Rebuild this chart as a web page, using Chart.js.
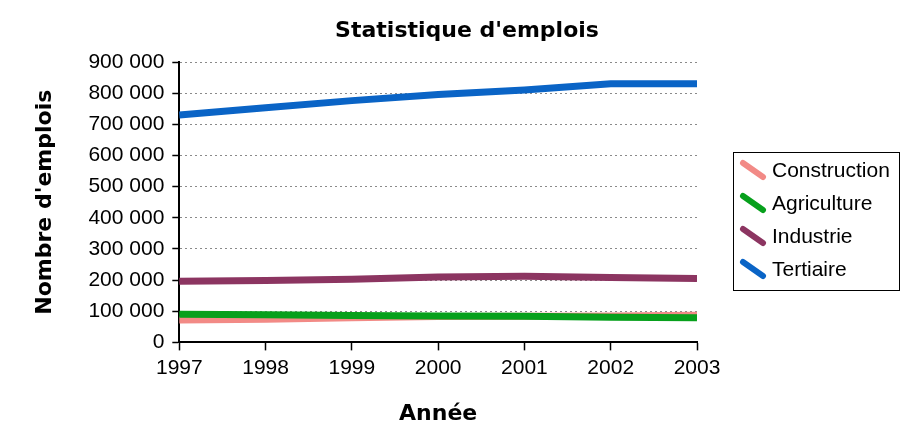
<!DOCTYPE html>
<html>
<head>
<meta charset="utf-8">
<script src="https://cdn.jsdelivr.net/npm/chart.js@4/dist/chart.umd.min.js"></script>
<style>
  html, body { margin: 0; padding: 0; background: #fff; }
  #wrap { width: 904px; height: 431px; }
</style>
</head>
<body>
<div id="wrap"><canvas id="emplois"></canvas></div>
<script>
// values
const annees = ['1997', '1998', '1999', '2000', '2001', '2002', '2003'];
const construction = [72000, 74000, 79000, 83000, 84000, 85000, 87000];
const agriculture = [90000, 89000, 86000, 85000, 84000, 81000, 79000];
const industrie = [196000, 199000, 203000, 210000, 212000, 208000, 205000];
const tertiaire = [730000, 753000, 776000, 796000, 810000, 830000, 830000];

const titre = "Statistique d'emplois";

const couleurs = {
  construction: '#f28a86',
  agriculture: '#07a01c',
  industrie: '#8c3561',
  tertiaire: '#0a64c6'
};

const fmt = (v) => {
  if (v === 0) return '0';
  const s = String(v);
  return s.slice(0, s.length - 3) + ' ' + s.slice(-3);
};

// title and framed legend drawn by hand, the original sits them off-centre
const habillage = {
  id: 'habillage',
  afterDraw(chart) {
    const ctx = chart.ctx;
    ctx.save();
    ctx.fillStyle = '#000';
    ctx.textAlign = 'center';
    ctx.textBaseline = 'middle';
    ctx.font = 'bold 22px "DejaVu Sans"';
    ctx.fillText(titre, 467, 31);

    ctx.strokeStyle = '#000';
    ctx.lineWidth = 1;
    ctx.strokeRect(733.5, 152.5, 166, 138);
    ctx.font = '21px "Liberation Sans"';
    ctx.textAlign = 'left';
    chart.data.datasets.forEach((d, i) => {
      const cy = 170 + i * 33;
      ctx.strokeStyle = d.borderColor;
      ctx.lineWidth = 6;
      ctx.lineCap = 'round';
      ctx.beginPath();
      ctx.moveTo(743, cy - 7);
      ctx.lineTo(763, cy + 7);
      ctx.stroke();
      ctx.fillText(d.label, 772, cy + 1);
    });
    ctx.restore();
  }
};

const ds = (label, data, color, order) => ({
  label: label,
  data: data,
  borderColor: color,
  backgroundColor: color,
  borderWidth: 7,
  borderCapStyle: 'butt',
  tension: 0,
  pointRadius: 0,
  pointHoverRadius: 0,
  fill: false,
  order: order
});

new Chart(document.getElementById('emplois'), {
  type: 'line',
  data: {
    labels: annees,
    datasets: [
      ds('Construction', construction, couleurs.construction, 3),
      ds('Agriculture', agriculture, couleurs.agriculture, 2),
      ds('Industrie', industrie, couleurs.industrie, 1),
      ds('Tertiaire', tertiaire, couleurs.tertiaire, 0)
    ]
  },
  options: {
    responsive: true,
    maintainAspectRatio: false,
    animation: false,
    layout: { padding: { left: 32, right: 207, top: 62, bottom: 4 } },
    plugins: {
      title: { display: false },
      legend: { display: false },
      tooltip: { enabled: false }
    },
    scales: {
      x: {
        offset: false,
        grid: {
          drawOnChartArea: false,
          drawTicks: true,
          tickColor: '#000',
          tickLength: 8,
          tickWidth: 1.5
        },
        border: { display: true, color: '#000', width: 2 },
        ticks: {
          color: '#000',
          font: { family: 'Liberation Sans', size: 21 },
          maxRotation: 0,
          autoSkip: false,
          padding: 5
        },
        title: {
          display: true,
          text: 'Année',
          color: '#000',
          font: { family: 'DejaVu Sans', size: 22, weight: 'bold' },
          padding: { top: 15, bottom: 0 }
        }
      },
      y: {
        min: 0,
        max: 900000,
        ticks: {
          stepSize: 100000,
          color: '#000',
          font: { family: 'Liberation Sans', size: 21 },
          padding: 8,
          callback: (v) => fmt(v)
        },
        grid: {
          color: '#8a8a8a',
          lineWidth: 1,
          drawTicks: true,
          tickColor: '#000',
          tickLength: 7,
          tickWidth: 1.5
        },
        border: { display: true, color: '#000', width: 2, dash: [2, 3] },
        title: {
          display: true,
          text: "Nombre d'emplois",
          color: '#000',
          font: { family: 'DejaVu Sans', size: 22, weight: 'bold' },
          padding: { top: 0, bottom: 22 }
        }
      }
    }
  },
  plugins: [habillage]
});
</script>
</body>
</html>
